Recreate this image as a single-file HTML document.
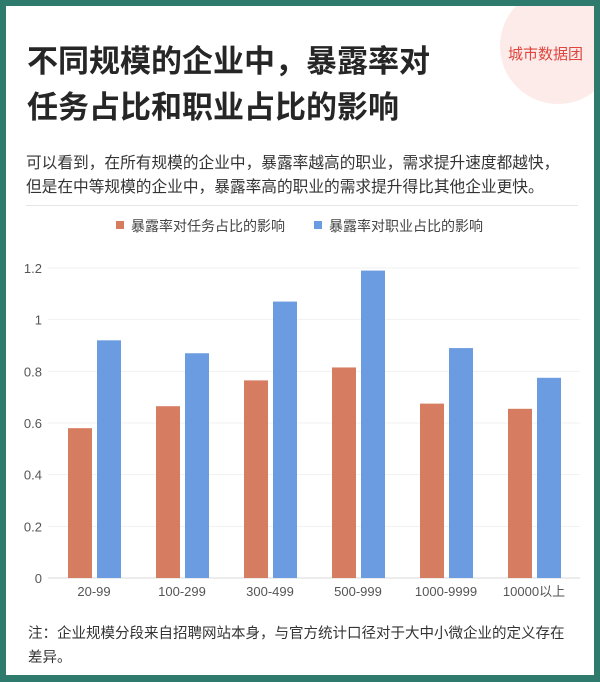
<!DOCTYPE html>
<html><head><meta charset="utf-8"><style>
body{margin:0;width:600px;height:682px;background:#2e7a6d;font-family:"Liberation Sans","Noto Sans CJK SC",sans-serif;overflow:hidden}
#card{position:absolute;left:6px;top:6px;width:588px;height:669px;background:#fff;overflow:hidden}
.t{position:absolute;white-space:nowrap}
</style></head><body>
<div id="card">
<div style="position:absolute;left:494px;top:-18px;width:116px;height:116px;border-radius:50%;background:#fcebe9"></div>
<div class="t" style="left:502px;top:37px;font-size:15px;color:#e0453f">城市数据团</div>
<div class="t" style="left:21px;top:33px;font-size:31px;font-weight:bold;color:#262626;line-height:46px">不同规模的企业中，暴露率对<br>任务占比和职业占比的影响</div>
<div class="t" style="left:20px;top:146px;font-size:15.7px;color:#333;line-height:24px">可以看到，在所有规模的企业中，暴露率越高的职业，需求提升速度都越快，<br>但是在中等规模的企业中，暴露率高的职业的需求提升得比其他企业更快。</div>
<div style="position:absolute;left:20px;top:199px;width:552px;height:1px;background:#e6e6e6"></div>
<svg id="chart" width="588" height="669" style="position:absolute;left:0;top:0"></svg>
<div class="t" style="left:22px;top:616px;font-size:14.5px;color:#333;line-height:24px">注：企业规模分段来自招聘网站本身，与官方统计口径对于大中小微企业的定义存在<br>差异。</div>
</div>
<script>
const categories=["20-99","100-299","300-499","500-999","1000-9999","10000以上"];
const taskValues=[0.58,0.665,0.765,0.815,0.675,0.655];
const jobValues=[0.92,0.87,1.07,1.19,0.89,0.775];
const yTicks=[0,0.2,0.4,0.6,0.8,1,1.2];
const seriesNames=["暴露率对任务占比的影响","暴露率对职业占比的影响"];
const NS="http://www.w3.org/2000/svg";
const svg=document.getElementById('chart');
const ox=-6,oy=-6;
const y=v=>oy+578-v*(310/1.2);
const gx=i=>ox+50+i*88;
function mk(t,a){const e=document.createElementNS(NS,t);for(const k in a)e.setAttribute(k,a[k]);svg.appendChild(e);return e;}
yTicks.forEach(v=>{
 const l=mk('line',{x1:ox+48,x2:ox+580,y1:y(v),y2:y(v),stroke:v===0?'#d8d8d8':'#f1f1f1','stroke-width':1});
 
 
 const t=mk('text',{x:ox+42,y:y(v)+5,'text-anchor':'end','font-size':13,fill:'#555'});
 t.textContent=String(v);
 
 
});
categories.forEach((c,i)=>{
 const b1=mk('rect',{x:gx(i)+18,y:y(taskValues[i]),width:24,height:y(0)-y(taskValues[i]),fill:'#d57c61'});
 
 
 const b2=mk('rect',{x:gx(i)+47,y:y(jobValues[i]),width:24,height:y(0)-y(jobValues[i]),fill:'#6b9be0'});
 
 
 const t=mk('text',{x:gx(i)+44,y:oy+596,'text-anchor':'middle','font-size':13,fill:'#555'});
 t.textContent=c;
 
 
});
const cols=['#d57c61','#6b9be0'],lx=[ox+116,ox+314];
seriesNames.forEach((n,i)=>{
 const r=mk('rect',{x:lx[i],y:oy+221,width:8,height:8,fill:cols[i]});
 
 
 const t=mk('text',{x:lx[i]+15,y:oy+231,'font-size':14,fill:'#444'});
 t.textContent=n;
 
 
});
</script>
</body></html>
